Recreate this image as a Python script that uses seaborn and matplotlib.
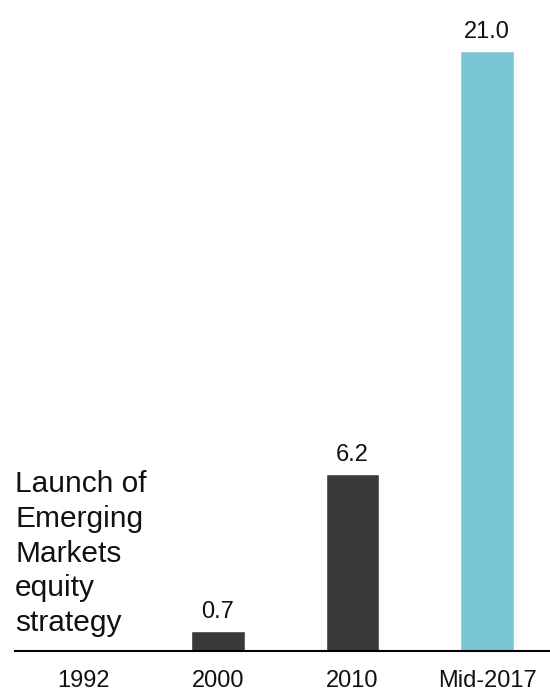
import matplotlib
matplotlib.use("Agg")
import matplotlib.pyplot as plt
import seaborn as sns
import pandas as pd

categories = ["1992", "2000", "2010", "Mid-2017"]
values = [0.0, 0.7, 6.2, 21.0]
labels = ["", "0.7", "6.2", "21.0"]
colors = ["#3a3b38", "#3a3b38", "#3a3b38", "#79c5d4"]
annotation = "Launch of\nEmerging\nMarkets\nequity\nstrategy"

sns.set_theme(style="white")
plt.rcParams["font.family"] = ["Liberation Sans", "DejaVu Sans"]

df = pd.DataFrame({"cat": categories, "val": values})

fig = plt.figure(figsize=(5.5, 6.91), dpi=100)
ax = fig.add_axes([15 / 550, 40 / 691, 535 / 550, 651 / 691])

sns.barplot(data=df, x="cat", y="val", hue="cat", palette=colors,
            width=0.40, legend=False, ax=ax, saturation=1)

for cont, lab in zip(ax.containers, labels):
    ax.bar_label(cont, labels=[lab], padding=6, fontsize=17, color="#111111")

ax.set_xlim(-0.509, 3.468)
ax.set_ylim(0, 22.785)
ax.set_xlabel("")
ax.set_ylabel("")
ax.set_yticks([])
for s in ["left", "right", "top"]:
    ax.spines[s].set_visible(False)
ax.spines["bottom"].set_color("black")
ax.spines["bottom"].set_linewidth(1.5)
ax.tick_params(axis="x", length=0, pad=14, labelsize=17, labelcolor="#111111")

ax.text(-0.509, 0.5, annotation, ha="left", va="bottom", fontsize=21.5,
        color="#111111", linespacing=1.3)

fig.savefig("out.png", dpi=100)
